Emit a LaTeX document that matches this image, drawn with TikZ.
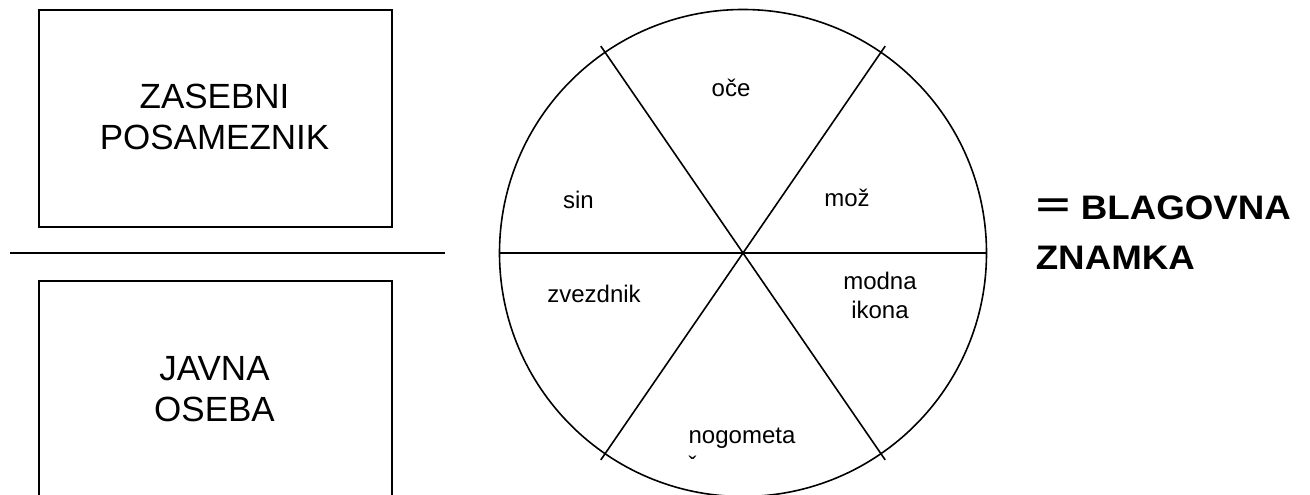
\documentclass[tikz,border=0pt]{standalone}
\usepackage{fontspec}
\setmainfont{Liberation Sans}
\newfontfamily\brandfont[FakeStretch=1.08]{Liberation Sans}
\usepackage{graphicx}
\begin{document}
\begin{tikzpicture}[x=1pt,y=-1pt,line width=1.6pt,
  boxframe/.style={draw,line width=1.6pt,inner sep=0pt,anchor=north west},
  boxtext/.style={font=\fontsize{35}{41}\selectfont,align=center,inner sep=0pt,anchor=base},
  seglabel/.style={font=\fontsize{24}{29}\selectfont,align=center,inner sep=0pt,anchor=base},
  brandtext/.style={font=\brandfont\bfseries\fontsize{34}{50}\selectfont,align=left,inner sep=0pt,anchor=base west}]
\useasboundingbox (0,0) rectangle (1310,495);
\fill[white] (0,0) rectangle (1310,495);
% left side
\node[boxframe,minimum width=353pt,minimum height=217pt] (priv) at (38,9) {};
\begin{scope}
  \clip (0,0) rectangle (1310,495);
  \node[boxframe,minimum width=353pt,minimum height=240pt] (pub) at (38,280) {};
\end{scope}
\node[boxtext] (privtext) at (214.5,149) {ZASEBNI\\POSAMEZNIK};
\node[boxtext] (pubtext) at (214.5,421) {JAVNA\\OSEBA};
\coordinate (divl) at (10,253);
\coordinate (divr) at (445,253);
\draw (divl) -- (divr);
% wheel
\node[draw,circle,minimum size=487pt,inner sep=0pt] (wheel) at (743,253) {};
\coordinate (d1a) at (600.8,46.1);
\coordinate (d1b) at (885.2,459.9);
\coordinate (d2a) at (885.2,46.1);
\coordinate (d2b) at (600.8,459.9);
\draw (wheel.west) -- (wheel.east);
\draw (d1a) -- (d1b);
\draw (d2a) -- (d2b);
\node[seglabel] (oce) at (731,96) {oče};
\node[seglabel] (sin) at (578.5,208) {sin};
\node[seglabel] (moz) at (847,206) {mož};
\node[seglabel] (zvezdnik) at (594,302) {zvezdnik};
\node[seglabel] (modna) at (880,318) {modna\\ikona};
\node[seglabel] (nogometa) at (742,443) {nogometa};
\node[seglabel] (caron) at (692.5,473) {ˇ};
% brand
\node[brandtext] (brand) at (1035,269) {\makebox[45pt][l]{\raisebox{3pt}{\scalebox{1.6}[1]{=}}}BLAGOVNA\\ZNAMKA};
\end{tikzpicture}
\end{document}
